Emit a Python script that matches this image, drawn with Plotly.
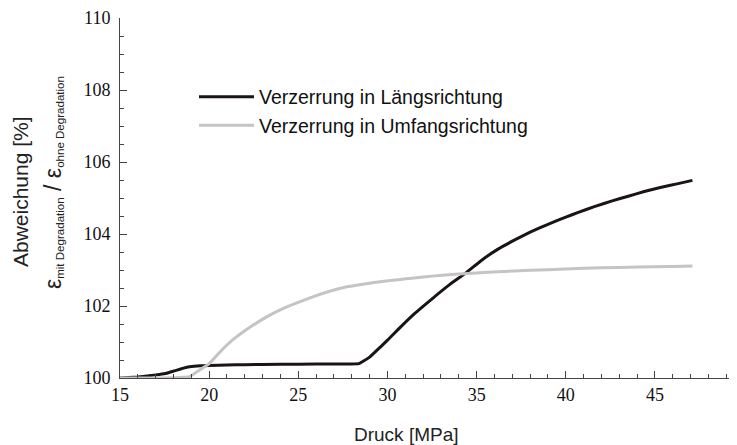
import plotly.graph_objects as go

# Verzerrung in Längsrichtung (black)
x_laengs = [15, 16, 16.6, 17.2, 17.6, 18.0, 18.4, 18.9, 19.5, 20, 21, 22, 24, 26, 27.5, 28.4,
            29.0, 29.6, 30.0, 30.6, 31.5, 32.5, 33.5, 34.4, 35.3, 36.2, 37.0, 38.0, 39.0,
            40.0, 40.7, 41.6, 42.6, 43.5, 44.4, 45.3, 46.3, 47.1]
y_laengs = [100.0, 100.03, 100.06, 100.1, 100.13, 100.19, 100.25, 100.31, 100.34, 100.35, 100.36, 100.37,
            100.38, 100.39, 100.39, 100.4,
            100.58, 100.86, 101.05, 101.35, 101.78, 102.2, 102.6, 102.92, 103.28, 103.58, 103.8, 104.05,
            104.27, 104.47, 104.6, 104.76, 104.92, 105.05, 105.18, 105.29, 105.4, 105.49]

# Verzerrung in Umfangsrichtung (gray)
x_umfang = [15, 17, 18.9, 19.4, 20.0, 20.6, 21.3, 22.2, 23.2, 24.1, 25.1, 26.0, 26.9, 27.8, 28.8,
            29.7, 30.6, 31.5, 32.5, 34.0, 35.0, 36.2, 38.0, 40.0, 42.0, 44.0, 46.0, 47.1]
y_umfang = [100.0, 100.0, 100.04, 100.2, 100.4, 100.72, 101.05, 101.38, 101.69, 101.92, 102.12, 102.29,
            102.43, 102.54, 102.62, 102.68, 102.73, 102.78, 102.83, 102.89, 102.92, 102.95, 102.99,
            103.03, 103.06, 103.08, 103.1, 103.11]

x_title = "Druck [MPa]"
y_title_1 = "Abweichung [%]"
y_title_2 = ('<span style="font-size:23px">ε</span><sub>mit Degradation</sub>'
             '<span style="font-size:23px"> / ε</span><sub>ohne Degradation</sub>')

# page body has an 8px margin; plot area on screen: left 120, right 737, top 16, bottom 378
OFF = 8
PL, PR, PT, PB = 120, 737, 16, 378
PW, PH = PR - PL, PB - PT


def px(sx):
    return (sx - PL) / PW


def py(sy):
    return (PB - sy) / PH


fig = go.Figure()
fig.add_trace(go.Scatter(x=x_laengs, y=y_laengs, mode="lines", name="Verzerrung in Längsrichtung",
                         line=dict(color="#1a1414", width=3, shape="spline", smoothing=0.3),
                         legendgroup="a"))
fig.add_trace(go.Scatter(x=x_umfang, y=y_umfang, mode="lines", name="Verzerrung in Umfangsrichtung",
                         line=dict(color="#c4c4c4", width=3, shape="spline", smoothing=0.3),
                         legendgroup="b"))

axis_font = dict(family="Liberation Serif", size=18, color="#111")
fig.update_xaxes(range=[15, 49.6], showline=True, linecolor="#444", linewidth=1,
                 ticks="inside", ticklen=7, tickcolor="#444", dtick=5, tick0=15,
                 minor=dict(ticks="inside", ticklen=4, dtick=1, tickcolor="#444"),
                 showgrid=False, zeroline=False, tickfont=axis_font, ticklabeloverflow="allow")
fig.update_yaxes(range=[100, 110], showline=True, linecolor="#444", linewidth=1,
                 ticks="inside", ticklen=7, tickcolor="#444", dtick=2, tick0=100,
                 minor=dict(ticks="inside", ticklen=4, dtick=0.5, tickcolor="#444"),
                 showgrid=False, zeroline=False, tickfont=axis_font, ticklabelstandoff=5,
                 ticklabeloverflow="allow")

fig.add_annotation(text=x_title, xref="paper", yref="paper", x=px(406), y=py(435),
                   xanchor="center", yanchor="middle",
                   showarrow=False, font=dict(family="Liberation Sans", size=19, color="#222"))
fig.add_annotation(text=y_title_1, xref="paper", yref="paper", x=px(20), y=py(191),
                   xanchor="center", yanchor="middle",
                   textangle=-90, showarrow=False, font=dict(family="Liberation Sans", size=21, color="#222"))
fig.add_annotation(text=y_title_2, xref="paper", yref="paper", x=px(53), y=py(182),
                   xanchor="center", yanchor="middle",
                   textangle=-90, showarrow=False, font=dict(family="Liberation Sans", size=16.5, color="#222"))

fig.update_layout(
    width=737 - OFF, height=445 - OFF,
    margin=dict(l=PL - OFF, r=0, t=PT - OFF, b=445 - PB),
    plot_bgcolor="white", paper_bgcolor="white",
    showlegend=True,
    legend=dict(x=px(194), y=py(76), xanchor="left", yanchor="top",
                font=dict(family="Liberation Sans", size=19.5, color="#111"),
                bgcolor="rgba(0,0,0,0)", tracegroupgap=0, itemwidth=55),
)

fig.write_html("out.html")
